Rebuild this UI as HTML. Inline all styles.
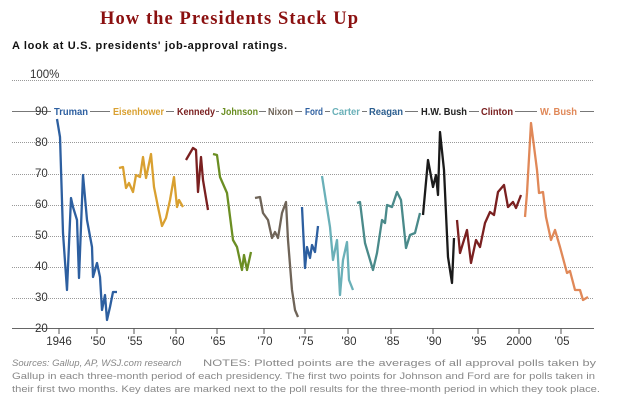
<!DOCTYPE html>
<html><head><meta charset="utf-8"><style>
body{margin:0;background:#fff;width:618px;height:406px;overflow:hidden}
svg{display:block}
</style></head><body>
<svg width="618" height="406" xmlns="http://www.w3.org/2000/svg">
<text x="100" y="24" font-family="Liberation Serif, serif" font-weight="bold" font-size="18.5" fill="#8b1010" textLength="258">How the Presidents Stack Up</text>
<text x="12" y="49" font-family="Liberation Sans, sans-serif" font-weight="bold" font-size="11" fill="#111" textLength="275">A look at U.S. presidents' job-approval ratings.</text>
<g stroke="#999" stroke-width="1" stroke-dasharray="1,1">
<line x1="12" y1="80.5" x2="594" y2="80.5"/>
<line x1="12" y1="142.5" x2="594" y2="142.5"/>
<line x1="12" y1="174.5" x2="594" y2="174.5"/>
<line x1="12" y1="205.5" x2="594" y2="205.5"/>
<line x1="12" y1="236.5" x2="594" y2="236.5"/>
<line x1="12" y1="267.5" x2="594" y2="267.5"/>
<line x1="12" y1="298.5" x2="594" y2="298.5"/>
</g>
<line x1="12" y1="328.5" x2="594" y2="328.5" stroke="#666"/>
<g stroke="#777">
<line x1="12" y1="111.5" x2="51" y2="111.5"/>
<line x1="90" y1="111.5" x2="110" y2="111.5"/>
<line x1="166" y1="111.5" x2="174" y2="111.5"/>
<line x1="216" y1="111.5" x2="219" y2="111.5"/>
<line x1="259" y1="111.5" x2="266" y2="111.5"/>
<line x1="295" y1="111.5" x2="302" y2="111.5"/>
<line x1="325" y1="111.5" x2="330" y2="111.5"/>
<line x1="362" y1="111.5" x2="367" y2="111.5"/>
<line x1="405" y1="111.5" x2="418" y2="111.5"/>
<line x1="469" y1="111.5" x2="479" y2="111.5"/>
<line x1="515" y1="111.5" x2="537" y2="111.5"/>
<line x1="580" y1="111.5" x2="594" y2="111.5"/>
</g>
<g font-family="Liberation Sans, sans-serif" font-size="11.5" fill="#333">
<text x="30" y="78">100%</text>
<text x="35" y="115">90</text><text x="35" y="146">80</text><text x="35" y="177">70</text><text x="35" y="208">60</text>
<text x="35" y="239">50</text><text x="35" y="270">40</text><text x="35" y="301">30</text><text x="35" y="332">20</text>
</g>
<g stroke="#555"><line x1="59" y1="328" x2="59" y2="334"/><line x1="97" y1="328" x2="97" y2="334"/><line x1="134" y1="328" x2="134" y2="334"/><line x1="176" y1="328" x2="176" y2="334"/><line x1="217" y1="328" x2="217" y2="334"/><line x1="264" y1="328" x2="264" y2="334"/><line x1="305" y1="328" x2="305" y2="334"/><line x1="348" y1="328" x2="348" y2="334"/><line x1="391" y1="328" x2="391" y2="334"/><line x1="433" y1="328" x2="433" y2="334"/><line x1="478" y1="328" x2="478" y2="334"/><line x1="519" y1="328" x2="519" y2="334"/><line x1="561" y1="328" x2="561" y2="334"/></g>
<g font-family="Liberation Sans, sans-serif" font-size="11.5" fill="#333" text-anchor="middle">
<text x="59" y="345">1946</text><text x="98" y="345">'50</text><text x="135" y="345">'55</text><text x="177" y="345">'60</text><text x="218" y="345">'65</text><text x="265" y="345">'70</text><text x="306" y="345">'75</text><text x="349" y="345">'80</text><text x="392" y="345">'85</text><text x="434" y="345">'90</text><text x="479" y="345">'95</text><text x="519" y="345">2000</text><text x="562" y="345">'05</text>
</g>
<g font-family="Liberation Sans, sans-serif" font-size="10.5" font-weight="bold" lengthAdjust="spacingAndGlyphs">
<text x="54" y="115" fill="#2d5fa0" textLength="34" lengthAdjust="spacingAndGlyphs">Truman</text>
<text x="113" y="115" fill="#d9a030" textLength="51" lengthAdjust="spacingAndGlyphs">Eisenhower</text>
<text x="177" y="115" fill="#7a2020" textLength="38" lengthAdjust="spacingAndGlyphs">Kennedy</text>
<text x="221" y="115" fill="#6b8e23" textLength="37" lengthAdjust="spacingAndGlyphs">Johnson</text>
<text x="268" y="115" fill="#6f6458" textLength="25" lengthAdjust="spacingAndGlyphs">Nixon</text>
<text x="305" y="115" fill="#2d5fa0" textLength="18" lengthAdjust="spacingAndGlyphs">Ford</text>
<text x="332" y="115" fill="#6ab0b8" textLength="28" lengthAdjust="spacingAndGlyphs">Carter</text>
<text x="369" y="115" fill="#2d5f90" textLength="34" lengthAdjust="spacingAndGlyphs">Reagan</text>
<text x="421" y="115" fill="#222" textLength="46" lengthAdjust="spacingAndGlyphs">H.W. Bush</text>
<text x="481" y="115" fill="#7a2020" textLength="32" lengthAdjust="spacingAndGlyphs">Clinton</text>
<text x="540" y="115" fill="#e08858" textLength="37" lengthAdjust="spacingAndGlyphs">W. Bush</text>
</g>
<g fill="none" stroke-width="2.3" stroke-linejoin="round">
<polyline stroke="#2d5fa0" points="57,119 60,137 63,233 67,290 71,198 73,207 77,220 79,278 83,175 87,220 92,247 93,277 97,263 100,277 102,310 105,295 107,320 110,307 113,292 117,292"/>
<polyline stroke="#d9a030" points="119,168 123,167 126,188 129,183 133,192 136,175 140,177 143,157 146,178 151,154 154,187 158,207 162,226 166,218 170,200 174,177 177,207 179,200 183,207"/>
<polyline stroke="#7a2020" points="186,160 193,148 196,150 198,192 201,157 203,180 208,210"/>
<polyline stroke="#6b8e23" points="213,154 217,155 220,177 227,193 233,240 237,247 242,270 244,255 247,270 251,252"/>
<polyline stroke="#6f6458" points="255,198 260,197 263,213 268,220 272,238 275,232 278,238 282,213 286,202 288,240 292,290 295,310 298,317"/>
<polyline stroke="#2d5fa0" points="302,207 305,268 307,247 310,258 312,245 315,252 318,226"/>
<polyline stroke="#6ab0b8" points="322,176 330,227 333,260 337,240 340,295 343,260 347,242 349,280 353,290"/>
<polyline stroke="#4a8a8a" points="357,203 360,202 365,243 373,270 377,253 382,220 385,223 387,205 392,207 397,192 401,200 406,248 410,235 415,233 420,213"/>
<polyline stroke="#1a1a1a" points="423,215 428,160 433,187 436,175 438,195 440,132 444,170 448,257 452,283 454,238"/>
<polyline stroke="#7a2020" points="457,220 460,253 467,230 471,263 476,240 480,247 485,223 490,212 494,215 498,192 504,185 508,207 513,202 516,208 521,195"/>
<polyline stroke="#e08858" points="525,217 527,193 531,123 537,170 539,193 543,192 546,217 551,240 555,230 560,247 567,273 570,271 575,290 580,290 583,300 588,297"/>
</g>
<g font-family="Liberation Sans, sans-serif" font-size="9.5" fill="#888">
<text x="12" y="366" font-style="italic">Sources: Gallup, AP, WSJ.com research</text>
<text x="203" y="366" textLength="393" lengthAdjust="spacingAndGlyphs">NOTES: Plotted points are the averages of all approval polls taken by</text>
<text x="12" y="379" textLength="583" lengthAdjust="spacingAndGlyphs">Gallup in each three-month period of each presidency. The first two points for Johnson and Ford are for polls taken in</text>
<text x="12" y="392" textLength="588" lengthAdjust="spacingAndGlyphs">their first two months. Key dates are marked next to the poll results for the three-month period in which they took place.</text>
</g>
</svg>
</body></html>
